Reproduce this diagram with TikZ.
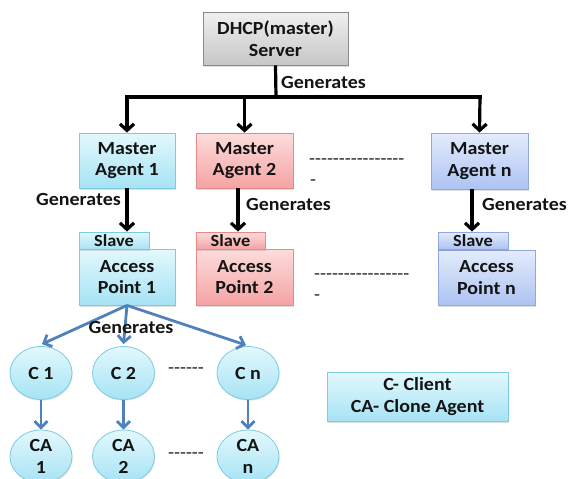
\documentclass[tikz,border=0pt]{standalone}
\usepackage{fontspec}
\setmainfont{Carlito}[FakeStretch=1.08]
\usetikzlibrary{arrows.meta,shapes.geometric,shadows,calc}
\definecolor{cyanT}{HTML}{E3F8FD}
\definecolor{cyanB}{HTML}{A6E3F4}
\definecolor{cyanD}{HTML}{7CCBE3}
\definecolor{pinkT}{HTML}{FDDCDC}
\definecolor{pinkB}{HTML}{F5A3A3}
\definecolor{pinkD}{HTML}{E58A8A}
\definecolor{lavT}{HTML}{E4ECFD}
\definecolor{lavB}{HTML}{ADC3F2}
\definecolor{lavD}{HTML}{8FA9E0}
\definecolor{grayT}{HTML}{F0F0F0}
\definecolor{grayB}{HTML}{C6C6C6}
\definecolor{grayD}{HTML}{8A8A8A}
\definecolor{officeblue}{HTML}{4F81BD}
\newcommand\hy{\mbox{-}}
\newcommand\hysix{\hy\hy\hy\hy\hy\hy}
\newcommand\hysixteen{\hysix\hysix\hy\hy\hy\hy}
\tikzset{
  txt/.style={font=\fontsize{18.5}{21.5}\selectfont\bfseries, text=black!92, align=center, inner sep=0pt},
  bx/.style={txt, rectangle, draw, line width=0.8pt, drop shadow={opacity=0.25, shadow xshift=1pt, shadow yshift=-1.5pt}},
  cyanbox/.style={bx, draw=cyanD, top color=cyanT, bottom color=cyanB},
  pinkbox/.style={bx, draw=pinkD, top color=pinkT, bottom color=pinkB},
  lavbox/.style={bx, draw=lavD, top color=lavT, bottom color=lavB},
  graybox/.style={bx, draw=grayD, top color=grayT, bottom color=grayB},
  tabtxt/.style={font=\fontsize{17}{18}\selectfont\bfseries},
  circ/.style={txt, ellipse, draw=cyanD, line width=0.8pt, top color=cyanT, bottom color=cyanB, minimum width=62pt, minimum height=53pt, drop shadow={opacity=0.2, shadow xshift=0.8pt, shadow yshift=-1.2pt}},
  blk/.style={line width=3.2pt, black},
  blkarrow/.style={blk, -{Straight Barb[length=6.5pt,width=14pt]}},
  bluearrow/.style={line width=2.8pt, officeblue, -{Straight Barb[length=6.5pt,width=13pt]}},
  lbl/.style={txt},
  dashtxt/.style={font=\fontsize{18}{21}\selectfont, inner sep=0pt, text=black!92}
}
\begin{document}
\begin{tikzpicture}[x=1pt,y=-1pt]
\useasboundingbox (0,0) rectangle (568,479);
% server
\node[graybox, minimum width=145pt, minimum height=53pt] (srv) at (275.5,38.5) {DHCP(master)\\Server};
% agents
\node[cyanbox, minimum width=96pt, minimum height=55pt] (ma1) at (127,160.5) {Master\\Agent 1};
\node[pinkbox, minimum width=97pt, minimum height=55pt] (ma2) at (244.5,160.5) {Master\\Agent 2};
\node[lavbox, minimum width=97pt, minimum height=56pt] (man) at (479.5,161) {Master\\Agent n};
% access points
\node[cyanbox, minimum width=96pt, minimum height=56pt] (ap1) at (127,277) {Access\\Point 1};
\node[pinkbox, minimum width=97pt, minimum height=56pt] (ap2) at (244.5,277) {Access\\Point 2};
\node[lavbox, minimum width=97pt, minimum height=55pt] (apn) at (486.5,277.5) {Access\\Point n};
\node[cyanbox, tabtxt, minimum width=70pt, minimum height=17pt] (sl1) at (114,240.5) {Slave};
\node[pinkbox, tabtxt, minimum width=69pt, minimum height=17pt] (sl2) at (230.5,240.5) {Slave};
\node[lavbox, tabtxt, minimum width=70pt, minimum height=17pt] (sln) at (473,240.5) {Slave};
% clients
\node[circ] (c1) at (41,373) {C 1};
\node[circ] (c2) at (123.5,373) {C 2};
\node[circ] (cn) at (248,373) {C n};
\node[circ] (ca1) at (41,456.5) {CA\\1};
\node[circ] (ca2) at (123.5,456.5) {CA\\2};
\node[circ] (can) at (248,456.5) {CA\\n};
% legend
\node[cyanbox, minimum width=181pt, minimum height=49pt] (leg) at (417.5,396.5) {C- Client\\CA- Clone Agent};
% server connectors
\coordinate (hub) at (276,97);
\coordinate (hl) at (127,97);
\coordinate (hr) at (480,97);
\draw[blk] (srv.south) -- (hub);
\draw[blk] ([xshift=-1.6pt]hl) -- ([xshift=1.6pt]hr);
\draw[blkarrow] (hl) -- (ma1.north);
\draw[blkarrow] (hub -| ma2.north) -- (ma2.north);
\draw[blkarrow] (hr) -- (man.north);
\node[lbl, anchor=west] (g0) at (281,83) {Generates};
% agent -> slave
\draw[blkarrow] (ma1.south) -- (ma1.south |- sl1.north);
\draw[blkarrow] ([xshift=-6.5pt]ma2.south) -- ([xshift=-6.5pt]ma2.south |- sl2.north);
\draw[blkarrow] ([xshift=-7.5pt]man.south) -- ([xshift=-7.5pt]man.south |- sln.north);
\node[lbl, anchor=east] (g1) at (121,199) {Generates};
\node[lbl, anchor=west] (g2) at (246,205) {Generates};
\node[lbl, anchor=west] (g3) at (482,205) {Generates};
% dashes
\node[dashtxt, anchor=west] (d1) at (309,162) {\hysixteen};
\node[dashtxt, anchor=west] (d1b) at (310,183) {\hy};
\node[dashtxt, anchor=west] (d2) at (314,277) {\hysixteen};
\node[dashtxt, anchor=west] (d2b) at (314,298) {\hy};
\node[dashtxt, anchor=west] (d3) at (168,371) {\hysix};
\node[dashtxt, anchor=west] (d4) at (168,456) {\hysix};
% blue arrows
\draw[bluearrow] (ap1.south) -- ([xshift=1pt,yshift=2pt]c1.north);
\draw[bluearrow] (ap1.south) -- ([yshift=2pt]c2.north);
\draw[bluearrow] (ap1.south) -- ([xshift=-2pt,yshift=1pt]cn.north);
\node[lbl] (g4) at (131,327) {Generates};
\draw[bluearrow] (c1.south) -- (ca1.north);
\draw[bluearrow] (c2.south) -- (ca2.north);
\draw[bluearrow] (cn.south) -- (can.north);
\end{tikzpicture}
\end{document}
